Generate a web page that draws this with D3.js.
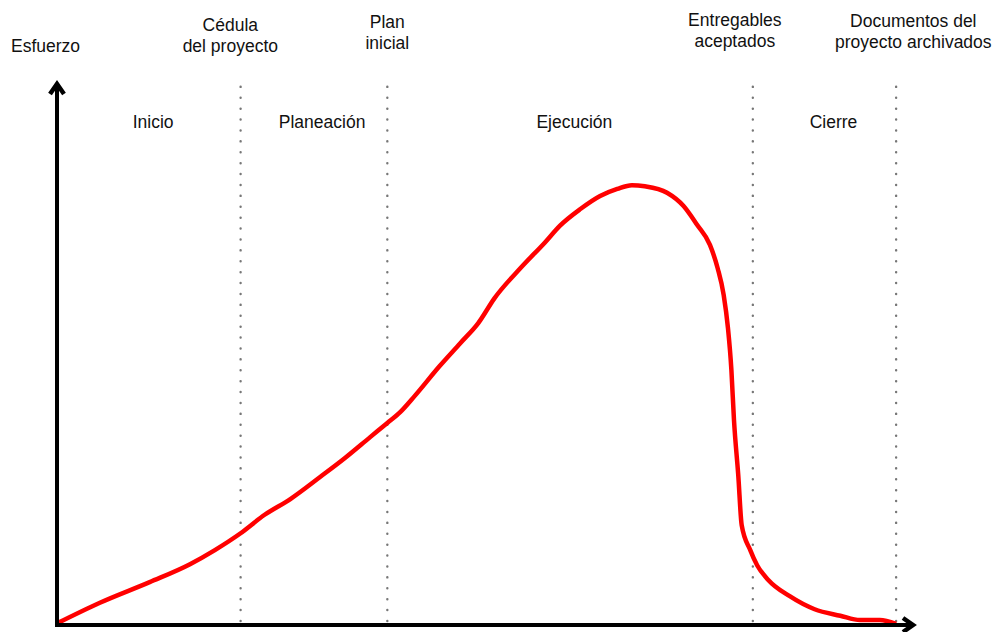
<!DOCTYPE html>
<html>
<head>
<meta charset="utf-8">
<script src="https://cdn.jsdelivr.net/npm/d3@7"></script>
<style>
  body { margin: 0; background: #fff; }
  svg text { font-family: "Liberation Sans", Arial, sans-serif; font-size: 17.5px; fill: #111; }
</style>
</head>
<body>
<div id="chart"></div>
<script>
// time (0-100) and effort (0-100)
const tiempo = [0, 5.0, 10.8, 15.5, 18.4, 21.4, 24.2, 27.2, 30.7, 33.6, 36.5, 38.5, 40.0, 41.7, 44.6, 47.0,
  49.1, 51.0, 54.0, 56.9, 58.6, 61.0, 63.3, 65.3, 67.0, 68.5, 71.1, 73.0, 74.6, 76.1, 77.0, 77.7,
  78.2, 78.6, 78.9, 79.4, 79.8, 80.8, 81.6, 82.9, 85.4, 88.3, 91.3, 93.6, 95.9, 97.8];
const esfuerzo = [0.3, 4.1, 7.9, 11.2, 13.8, 16.9, 20.3, 23.2, 27.3, 30.8, 34.6, 37.2, 39.2, 42.2, 47.7, 51.9,
  55.6, 60.2, 65.7, 70.5, 73.5, 76.6, 79.0, 80.3, 81.0, 80.8, 79.6, 77.2, 73.7, 70.0, 65.7, 60.8,
  54.7, 47.0, 37.8, 27.6, 18.4, 13.8, 11.0, 8.3, 5.3, 2.9, 1.7, 0.9, 0.9, 0.2];

// milestones (dotted lines) and their labels
const hitos = [21.4, 38.5, 81.1, 97.8];
const hitoLabels = [["Cédula", "del proyecto"], ["Plan", "inicial"], ["Entregables", "aceptados"], ["Documentos del", "proyecto archivados"]];
const hitoLabelX = [20.2, 38.5, 79.0, 99.8];
const hitoLabelY = [31, 28, 26, 27];

// phase names sitting between the milestones
const fases = ["Inicio", "Planeación", "Ejecución", "Cierre"];
const faseX = [11.2, 30.9, 60.3, 90.5];

const width = 995, height = 632;

const svg = d3.select("#chart").append("svg")
  .attr("width", width)
  .attr("height", height);

const x = d3.scaleLinear().domain([0, 100]).range([57, 915]);
const y = d3.scaleLinear().domain([0, 100]).range([625, 82]);

// dotted milestone lines
svg.selectAll(".hito")
  .data(hitos)
  .enter()
  .append("line")
  .attr("class", "hito")
  .attr("x1", d => x(d)).attr("x2", d => x(d))
  .attr("y1", y(0) - 4).attr("y2", y(100) + 2)
  .attr("stroke", "#777")
  .attr("stroke-width", 2.4)
  .attr("stroke-linecap", "round")
  .attr("stroke-dasharray", "0.1,10.8");

// milestone labels (two lines each)
hitoLabels.forEach((lines, i) => {
  const t = svg.append("text")
    .attr("x", x(hitoLabelX[i]))
    .attr("y", hitoLabelY[i])
    .attr("text-anchor", "middle");
  lines.forEach((s, j) => {
    t.append("tspan")
      .attr("x", x(hitoLabelX[i]))
      .attr("dy", j === 0 ? 0 : 20.5)
      .text(s);
  });
});

// phase labels
svg.selectAll(".fase")
  .data(fases)
  .enter()
  .append("text")
  .attr("class", "fase")
  .attr("x", (d, i) => x(faseX[i]))
  .attr("y", 128)
  .attr("text-anchor", "middle")
  .text(d => d);

// y axis label
svg.append("text")
  .attr("x", 11)
  .attr("y", 52)
  .text("Esfuerzo");

// effort curve
const line = d3.line()
  .curve(d3.curveMonotoneX)
  .x((d, i) => x(tiempo[i]))
  .y(d => y(d));

svg.append("path")
  .datum(esfuerzo)
  .attr("d", line)
  .attr("fill", "none")
  .attr("stroke", "#ff0000")
  .attr("stroke-width", 4.5)
  .attr("stroke-linejoin", "round");

// axes: plain thick lines with arrow heads
svg.append("line")
  .attr("x1", x(0)).attr("x2", x(0))
  .attr("y1", y(0) + 2).attr("y2", y(100) + 2)
  .attr("stroke", "#000").attr("stroke-width", 4);

svg.append("line")
  .attr("x1", x(0) - 2).attr("x2", x(100) - 2)
  .attr("y1", y(0)).attr("y2", y(0))
  .attr("stroke", "#000").attr("stroke-width", 4);

svg.append("path")
  .attr("d", `M${x(0) - 7},${y(100) + 12} L${x(0)},${y(100) + 2} L${x(0) + 7},${y(100) + 12}`)
  .attr("fill", "none").attr("stroke", "#000").attr("stroke-width", 4.5)
  .attr("stroke-linejoin", "miter");

svg.append("path")
  .attr("d", `M${x(100) - 12},${y(0) - 7} L${x(100) - 2},${y(0)} L${x(100) - 12},${y(0) + 7}`)
  .attr("fill", "none").attr("stroke", "#000").attr("stroke-width", 4.5)
  .attr("stroke-linejoin", "miter");
</script>
</body>
</html>
